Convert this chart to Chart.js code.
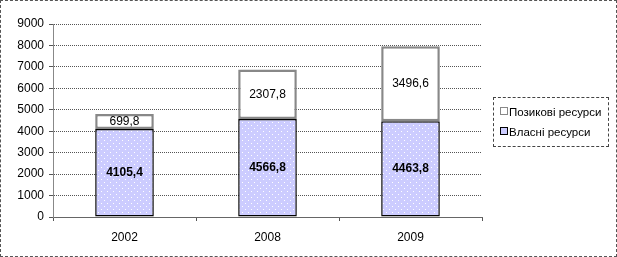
<!DOCTYPE html>
<html>
<head>
<meta charset="utf-8">
<script src="https://cdn.jsdelivr.net/npm/chart.js@4/dist/chart.umd.min.js"></script>
<style>
    html, body { margin: 0; padding: 0; background: #fff; }
    #wrap {
        position: relative;
        width: 617px;
        height: 257px;
        box-sizing: border-box;
        border: 1px dashed #555;
        font-family: Arial, "Liberation Sans", sans-serif;
    }
    #chart { position: absolute; left: 0; top: 0; }
    #legend {
        position: absolute;
        left: 492px;
        top: 96px;
        width: 116px;
        height: 50px;
        box-sizing: border-box;
        border: 1px dashed #444;
        font-size: 11.5px;
        color: #000;
        padding: 7px 0 0 6px;
    }
    #legend div { height: 20px; line-height: 14px; white-space: nowrap; }
    #legend span.sw {
        display: inline-block;
        width: 6px;
        height: 6px;
        vertical-align: 1px;
        margin-right: 1px;
    }
</style>
</head>
<body>
<div id="wrap">
    <canvas id="chart" width="617" height="257"></canvas>
    <div id="legend">
        <div><span class="sw" style="background:#fff;border:1px solid #888;"></span>Позикові ресурси</div>
        <div><span class="sw" style="background:#ccccff;border:1px solid #000;"></span>Власні ресурси</div>
    </div>
</div>
<script>
const years = ['2002', '2008', '2009'];
const ownResources = [4105.4, 4566.8, 4463.8];
const borrowedResources = [699.8, 2307.8, 3496.6];
const yTicks = [0, 1000, 2000, 3000, 4000, 5000, 6000, 7000, 8000, 9000];

function fmt(v) {
    return v.toFixed(1).replace('.', ',');
}

// dotted lavender fill like the original
function makePattern() {
    const c = document.createElement('canvas');
    c.width = 6;
    c.height = 6;
    const g = c.getContext('2d');
    g.fillStyle = '#ccccff';
    g.fillRect(0, 0, 6, 6);
    g.fillStyle = '#ffffff';
    g.fillRect(1, 1, 1, 1);
    g.fillRect(4, 4, 1, 1);
    return g.createPattern(c, 'repeat');
}

const barLabels = {
    id: 'barLabels',
    afterDatasetsDraw(chart) {
        const ctx = chart.ctx;
        ctx.save();
        ctx.textAlign = 'center';
        ctx.textBaseline = 'middle';
        ctx.fillStyle = '#000';
        chart.data.datasets.forEach((ds, i) => {
            const meta = chart.getDatasetMeta(i);
            ctx.font = (i === 0 ? 'bold ' : '') + '12px Arial, "Liberation Sans", sans-serif';
            meta.data.forEach((bar, j) => {
                const y = (bar.y + bar.base) / 2;
                ctx.fillText(fmt(ds.data[j]), bar.x, y);
            });
        });
        ctx.restore();
    }
};

const ctx = document.getElementById('chart');
new Chart(ctx, {
    type: 'bar',
    data: {
        labels: years,
        datasets: [
            {
                label: 'Власні ресурси',
                data: ownResources,
                backgroundColor: makePattern(),
                borderColor: '#000',
                borderWidth: 1.5,
                borderSkipped: false,
                barPercentage: 0.41,
                categoryPercentage: 1
            },
            {
                label: 'Позикові ресурси',
                data: borrowedResources,
                backgroundColor: '#fff',
                borderColor: '#888',
                borderWidth: 2.5,
                borderSkipped: false,
                barPercentage: 0.41,
                categoryPercentage: 1
            }
        ]
    },
    options: {
        responsive: false,
        animation: false,
        layout: { padding: { left: 0, right: 136, top: 23, bottom: 0 } },
        plugins: {
            legend: { display: false },
            tooltip: { enabled: false }
        },
        scales: {
            x: {
                stacked: true,
                afterFit: s => { s.height = 41; },
                grid: { display: true, drawOnChartArea: false, offset: true, tickLength: 4, color: '#555' },
                border: { color: '#666' },
                ticks: {
                    color: '#000',
                    padding: 9,
                    font: { family: 'Arial, "Liberation Sans", sans-serif', size: 12 }
                }
            },
            y: {
                stacked: true,
                min: 0,
                max: 9000,
                afterFit: s => { s.width = 52; },
                afterBuildTicks: s => { s.ticks = yTicks.map(v => ({ value: v })); },
                grid: { color: '#555', tickLength: 4 },
                border: { color: '#888', dash: [1, 1] },
                ticks: {
                    color: '#000',
                    padding: 5,
                    callback: v => String(v),
                    font: { family: 'Arial, "Liberation Sans", sans-serif', size: 12 }
                }
            }
        }
    },
    plugins: [barLabels]
});
</script>
</body>
</html>
